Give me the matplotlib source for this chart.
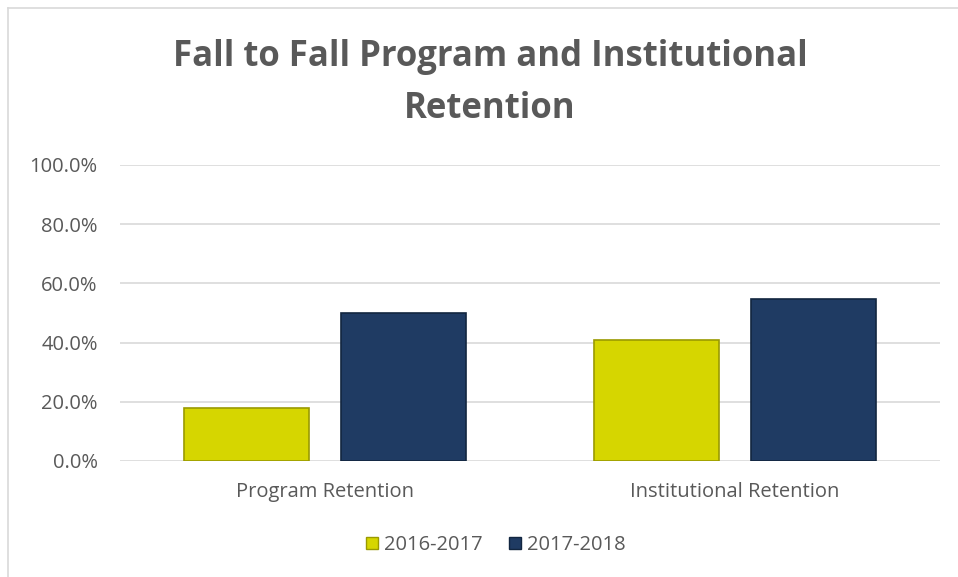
import numpy as np
import matplotlib.pyplot as plt
from matplotlib.lines import Line2D

categories = ["Program Retention", "Institutional Retention"]
series_names = ["2016-2017", "2017-2018"]
values_2016 = [17.9, 40.8]
values_2017 = [50.0, 54.6]
yticks = [0, 20, 40, 60, 80, 100]

colors = ["#D6D600", "#1F3B63"]
edges = ["#9A9A00", "#122640"]
text_gray = "#595959"

plt.rcParams["font.family"] = ["Open Sans", "DejaVu Sans"]

fig = plt.figure(figsize=(9.58, 5.77), dpi=100)
ax = fig.add_axes([120 / 958, 1 - 461 / 577, 820 / 958, 296 / 577])

x = np.arange(len(categories))
w = 0.307
off = w / 2 + 0.038
for vals, xo, c, e, name in [(values_2016, -off, colors[0], edges[0], series_names[0]),
                             (values_2017, off, colors[1], edges[1], series_names[1])]:
    ax.bar(x + xo, vals, width=w, color=c, edgecolor=e, linewidth=1.2, zorder=3, label=name)

ax.set_xlim(-0.5, 1.5)
ax.set_ylim(0, 100)
ax.set_yticks(yticks)
ax.set_yticklabels([f"{t:.1f}%" for t in yticks], fontsize=14.5, color=text_gray)
ax.set_xticks(x)
ax.set_xticklabels(categories, fontsize=14.5, color=text_gray)
ax.tick_params(axis="y", length=0, pad=16)
ax.tick_params(axis="x", length=0, pad=15)
ax.grid(axis="y", color="#D9D9D9", linewidth=1.2, zorder=0)
for s in ax.spines.values():
    s.set_visible(False)

fig.text(490 / 958, 1 - 83 / 577, "Fall to Fall Program and Institutional\nRetention",
         ha="center", va="center", fontsize=25, fontweight="bold", color=text_gray,
         linespacing=1.6)

handles = [Line2D([], [], marker="s", linestyle="none", markersize=9,
                  markerfacecolor=colors[i], markeredgecolor=edges[i]) for i in range(2)]
fig.legend(handles, series_names, loc="center", bbox_to_anchor=(493 / 958, 1 - 545 / 577),
           ncol=2, frameon=False, fontsize=14.5, handletextpad=0.0, columnspacing=1.0,
           handlelength=1.2, labelcolor=text_gray)

# chart border (left and top visible)
fig.add_artist(Line2D([8 / 958, 8 / 958], [0, 1 - 8 / 577], color="#D9D9D9", lw=1.2))
fig.add_artist(Line2D([8 / 958, 1], [1 - 8 / 577, 1 - 8 / 577], color="#D9D9D9", lw=1.2))

fig.savefig("out.png", dpi=100)
